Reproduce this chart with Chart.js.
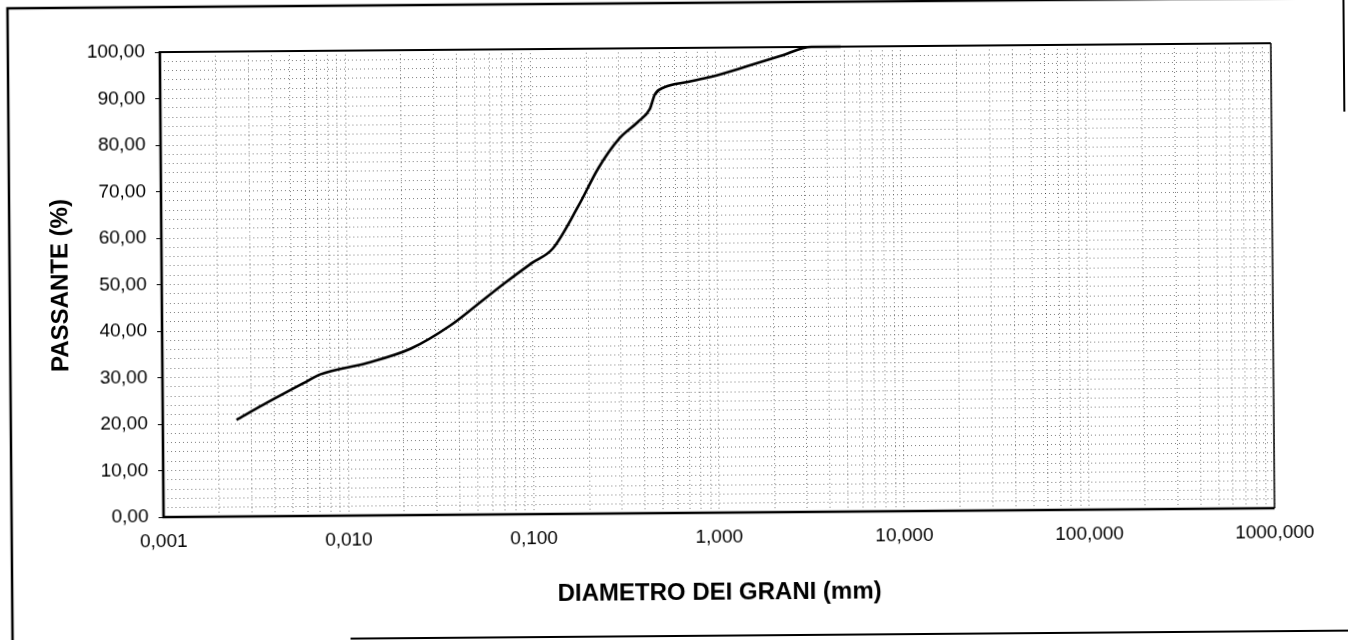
<!DOCTYPE html>
<html>
<head>
<meta charset="utf-8">
<title>Curva granulometrica</title>
<script src="https://cdn.jsdelivr.net/npm/chart.js@4.4.1/dist/chart.umd.min.js"></script>
<style>
  html, body { margin: 0; padding: 0; background: #fff; overflow: hidden; }
  #wrap { width: 1348px; height: 640px; }
  /* the scan is a touch skewed, right side sits higher */
  #chart { display: block; transform: rotate(-0.46deg); transform-origin: 50% 50%; }
</style>
</head>
<body>
<div id="wrap"><canvas id="chart" width="1348" height="640"></canvas></div>
<script>
(() => {
  "use strict";

  // grain diameter (mm) vs percent passing
  const DIAMETERS = [
    0.0025, 0.0035, 0.006, 0.0071, 0.0128, 0.022, 0.036, 0.05, 0.07, 0.1,
    0.13, 0.18, 0.23, 0.3, 0.38, 0.44, 0.47, 0.53, 0.71, 0.94, 1.5, 2.25,
    3.3, 4.75,
  ];
  const PASSING = [
    20.8, 24.0, 28.9, 30.4, 32.8, 35.8, 40.7, 45.0, 49.5, 54.0,
    57.1, 66.3, 74.2, 80.6, 84.2, 86.9, 90.1, 91.6, 92.7, 93.7, 96.0, 98.1,
    100, 100,
  ];

  const X_DECADES = [0.001, 0.01, 0.1, 1, 10, 100, 1000];
  const X_TICK_LABELS = ["0,001", "0,010", "0,100", "1,000", "10,000", "100,000", "1000,000"];
  const Y_TICKS = [0, 10, 20, 30, 40, 50, 60, 70, 80, 90, 100];
  const Y_TICK_LABELS = [
    "0,00", "10,00", "20,00", "30,00", "40,00", "50,00",
    "60,00", "70,00", "80,00", "90,00", "100,00",
  ];

  const DOTS = "rgba(0,0,0,0.5)";
  Chart.defaults.font.family = '"Liberation Sans", Arial, sans-serif';
  Chart.defaults.color = "#000";

  // ── paper frame and plot box ──────────────────────────────────────────────
  const frames = {
    id: "frames",
    beforeDraw(chart) {
      const ctx = chart.ctx;
      ctx.save();
      ctx.strokeStyle = "#000";
      ctx.lineWidth = 2.5;
      ctx.beginPath();
      ctx.moveTo(10, 640);
      ctx.lineTo(10, 3);
      ctx.lineTo(1348, 3);
      ctx.stroke();
      ctx.lineWidth = 2;
      ctx.beginPath();
      ctx.moveTo(1346, 0);
      ctx.lineTo(1346, 117);
      ctx.moveTo(348, 636);
      ctx.lineTo(1348, 636);
      ctx.stroke();
      ctx.restore();
    },
    afterDraw(chart) {
      const { left, right, top, bottom } = chart.chartArea;
      const ctx = chart.ctx;
      ctx.save();
      ctx.strokeStyle = "#000";
      ctx.lineWidth = 2;
      ctx.beginPath();
      ctx.moveTo(left, top);
      ctx.lineTo(right, top);
      ctx.stroke();
      ctx.lineWidth = 1.5;
      ctx.beginPath();
      ctx.moveTo(right, top);
      ctx.lineTo(right, bottom);
      ctx.stroke();
      ctx.lineWidth = 2.6;
      ctx.beginPath();
      ctx.moveTo(left, top - 1);
      ctx.lineTo(left, bottom);
      ctx.lineTo(right, bottom);
      ctx.stroke();
      ctx.restore();
    },
  };

  new Chart(document.getElementById("chart"), {
    type: "scatter",
    data: {
      datasets: [
        {
          data: DIAMETERS.map((d, i) => ({ x: d, y: PASSING[i] })),
          showLine: true,
          borderColor: "#000",
          borderWidth: 2.6,
          pointRadius: 0,
          cubicInterpolationMode: "monotone",
          clip: 4,
        },
      ],
    },
    options: {
      responsive: false,
      animation: false,
      devicePixelRatio: 1,
      layout: { padding: { left: 47, top: 48, right: 75, bottom: 0 } },
      plugins: { legend: { display: false }, tooltip: { enabled: false } },
      scales: {
        x: {
          type: "logarithmic",
          min: X_DECADES[0],
          max: X_DECADES[X_DECADES.length - 1],
          afterBuildTicks(scale) {
            const ticks = [];
            X_DECADES.forEach((d, i) => {
              if (i === X_DECADES.length - 1) {
                ticks.push({ value: d });
                return;
              }
              for (let k = 1; k <= 9; k++) ticks.push({ value: k * d });
            });
            scale.ticks = ticks;
          },
          afterFit(scale) {
            scale.height = 127;
          },
          grid: { color: DOTS, lineWidth: 1, drawTicks: false },
          border: { display: false, dash: [1, 3] },
          ticks: {
            autoSkip: false,
            minRotation: 0,
            maxRotation: 0,
            padding: 13,
            font: { size: 19 },
            callback: (v) => {
              const i = X_DECADES.indexOf(v);
              return i < 0 ? "" : X_TICK_LABELS[i];
            },
          },
          title: {
            display: true,
            text: "DIAMETRO DEI GRANI (mm)",
            font: { size: 24, weight: "bold" },
            padding: { top: 0, bottom: 32.6 },
          },
        },
        y: {
          min: 0,
          max: 100,
          afterFit(scale) {
            scale.width = 115;
          },
          grid: {
            color: DOTS,
            lineWidth: 1,
            tickLength: 5,
            tickColor: (c) =>
              c.tick && Y_TICKS.includes(c.tick.value) ? "#000" : "rgba(0,0,0,0)",
          },
          border: { display: false, dash: [1, 3] },
          ticks: {
            stepSize: 2,
            autoSkip: false,
            padding: 10,
            font: { size: 19 },
            callback: (v) => {
              const i = Y_TICKS.indexOf(v);
              return i < 0 ? "" : Y_TICK_LABELS[i];
            },
          },
          title: {
            display: true,
            text: "PASSANTE (%)",
            font: { size: 24, weight: "bold" },
            padding: 0,
          },
        },
      },
    },
    plugins: [frames],
  });
})();
</script>
</body>
</html>
